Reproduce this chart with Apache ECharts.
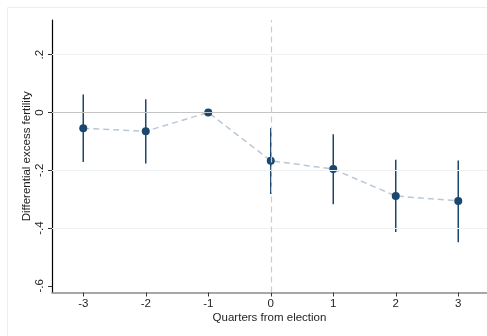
<!DOCTYPE html>
<html>
<head>
<meta charset="utf-8">
<script src="https://cdn.jsdelivr.net/npm/echarts@6/dist/echarts.min.js"></script>
<style>html,body{margin:0;padding:0;background:#fff;}#c{width:487px;height:336px;}</style>
</head>
<body>
<div id="c"></div>
<script>
const quarters = [-3, -2, -1, 0, 1, 2, 3];
const estimates = [-0.055, -0.065, 0, -0.167, -0.196, -0.289, -0.306];
const ciLow = [-0.171, -0.177, 0, -0.282, -0.318, -0.414, -0.449];
const ciHigh = [0.062, 0.046, 0, -0.054, -0.075, -0.164, -0.166];
const xTicks = [-3, -2, -1, 0, 1, 2, 3];
const yTicks = [0.2, 0, -0.2, -0.4, -0.6];
const yGridLines = [0.2, -0.2, -0.4];
const zeroLineY = 0;
const eventLineX = 0;

function fmtY(v) {
  if (Math.abs(v) < 1e-9) return '0';
  let s = (Math.round(v * 10) / 10).toString();
  return s.replace('0.', '.');
}

const chart = echarts.init(document.getElementById('c'), null, {renderer: 'canvas'});
const font = 'Liberation Sans, Arial, sans-serif';
chart.setOption({
  animation: false,
  backgroundColor: '#ffffff',
  graphic: [{
    type: 'rect', shape: {x: 7.5, y: 7.5, width: 500, height: 400}, silent: true, z: -10,
    style: {fill: 'none', stroke: '#eeeeee', lineWidth: 1}
  }],
  grid: {left: 52, right: 0, top: 20, bottom: 43.5},
  xAxis: {
    type: 'value', min: -3.5, max: 3.46,
    name: 'Quarters from election', nameLocation: 'middle', nameGap: 19, nameMoveOverlap: false,
    nameTextStyle: {fontFamily: font, fontSize: 11.5, color: '#1e1e1e'},
    axisLine: {show: true, onZero: false, lineStyle: {color: '#8a8a8a', width: 1.5}},
    axisTick: {show: true, length: 4, customValues: xTicks, lineStyle: {color: '#333'}},
    axisLabel: {customValues: xTicks, margin: 5, fontFamily: font, fontSize: 11.5, color: '#1e1e1e',
      formatter: v => String(v)},
    splitLine: {show: false}
  },
  yAxis: {
    type: 'value', min: -0.623, max: 0.32,
    name: 'Differential excess fertility', nameLocation: 'middle', nameGap: 19, nameRotate: 90, nameMoveOverlap: false,
    nameTextStyle: {fontFamily: font, fontSize: 11.5, color: '#1e1e1e'},
    axisLine: {show: true, onZero: false, lineStyle: {color: '#000', width: 1.2}},
    axisTick: {show: true, length: 4, customValues: yTicks, lineStyle: {color: '#333'}},
    axisLabel: {customValues: yTicks, rotate: 90, margin: 6, fontFamily: font, fontSize: 11.5, color: '#1e1e1e',
      formatter: v => fmtY(v)},
    splitLine: {show: false}
  },
  series: [
    {
      type: 'line', data: [], silent: true, z: 1,
      markLine: {
        symbol: 'none', silent: true, label: {show: false}, animation: false,
        data: yGridLines.map(v => ({yAxis: v, lineStyle: {color: '#eef2f2', width: 1.2, type: 'solid'}}))
          .concat([{yAxis: zeroLineY, lineStyle: {color: '#c4c4c4', width: 1.2, type: 'solid'}}])
          .concat([{xAxis: eventLineX, lineStyle: {color: '#cccccc', width: 1.2, type: [6, 4]}}])
      }
    },
    {
      type: 'custom', z: 3, silent: true,
      data: quarters.map((q, i) => [q, ciLow[i], ciHigh[i]]),
      renderItem: function (params, api) {
        const p1 = api.coord([api.value(0), api.value(1)]);
        const p2 = api.coord([api.value(0), api.value(2)]);
        return {type: 'line', shape: {x1: p1[0], y1: p1[1], x2: p2[0], y2: p2[1]},
          style: {stroke: '#1a476f', lineWidth: 1.5}};
      }
    },
    {
      type: 'line', z: 4, silent: true,
      data: quarters.map((q, i) => [q, estimates[i]]),
      symbol: 'circle', symbolSize: 8,
      itemStyle: {color: '#1a476f'},
      lineStyle: {color: '#b9c7d6', width: 1.5, type: [6, 4]}
    }
  ]
});
</script>
</body>
</html>
